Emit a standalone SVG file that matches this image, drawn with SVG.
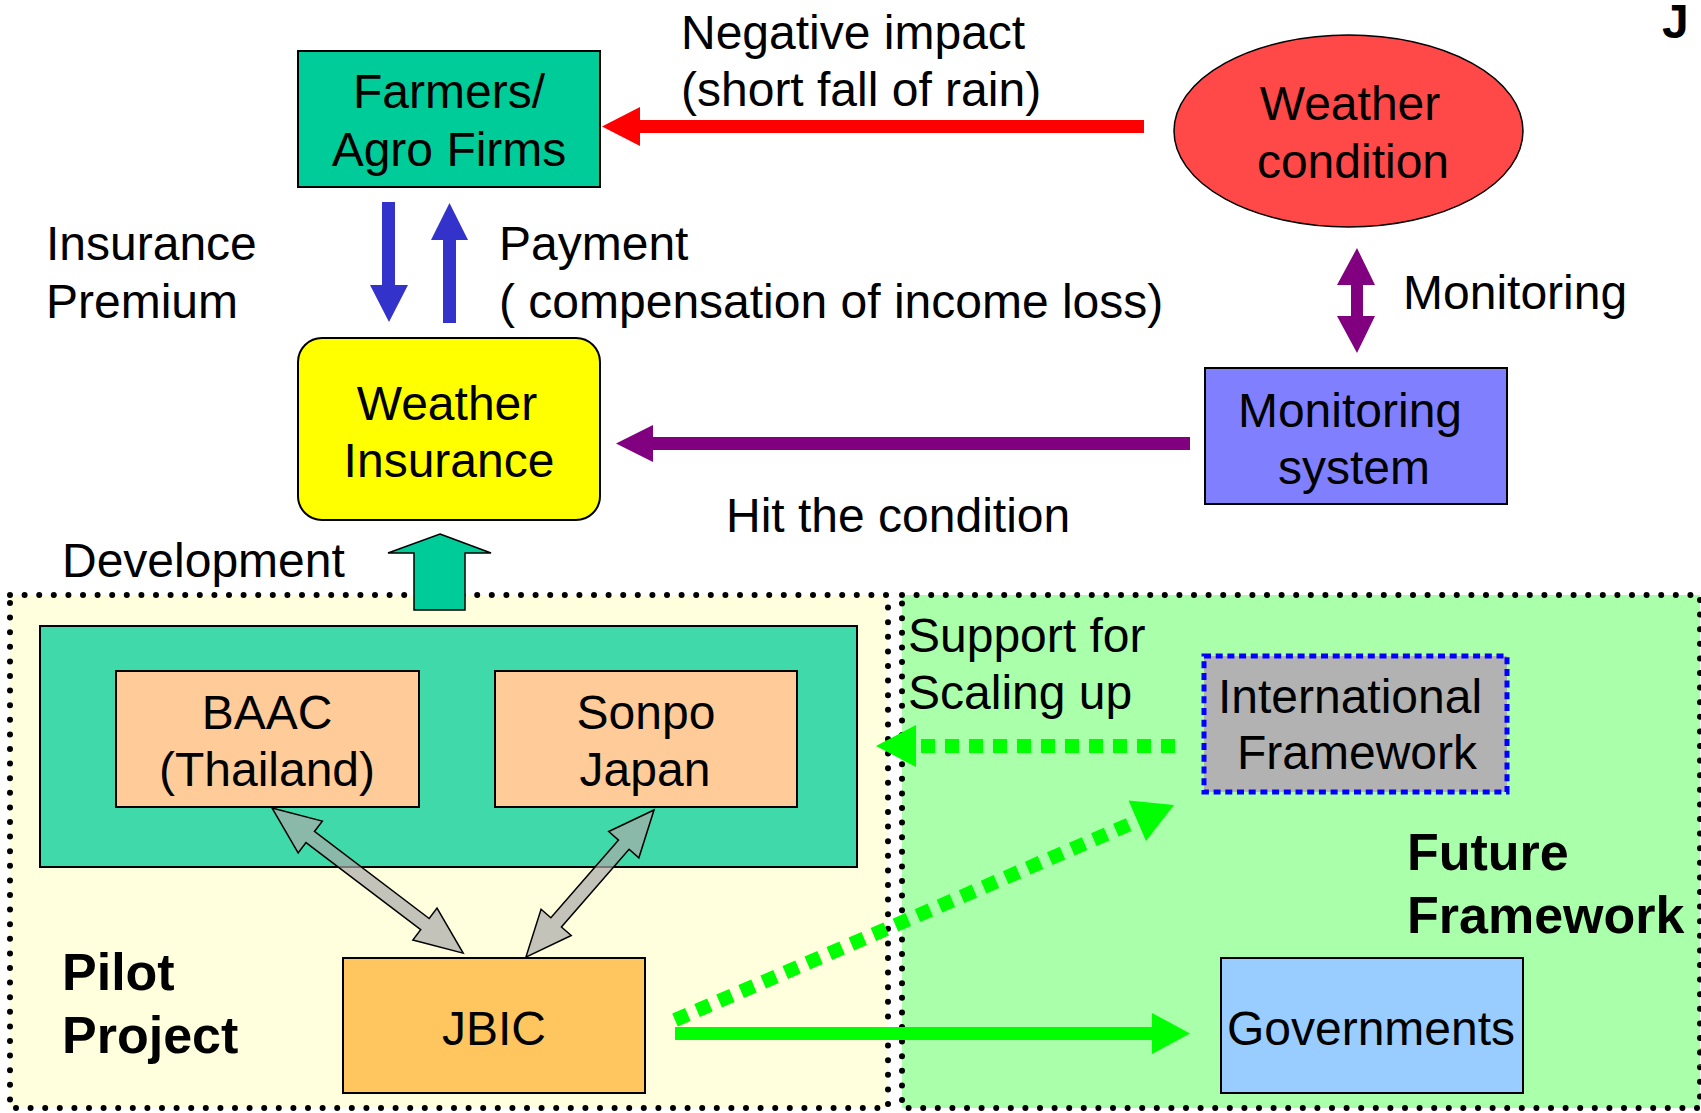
<svg xmlns="http://www.w3.org/2000/svg" width="1701" height="1113" viewBox="0 0 1701 1113">
<style>
text{font-family:"Liberation Sans",Arial,sans-serif;font-size:48px;fill:#000}
.c{text-anchor:middle}
.b{font-weight:bold;font-size:52px}
.box{stroke:#000;stroke-width:2}
.dot{fill:none;stroke:#000;stroke-width:6;stroke-linecap:round;stroke-dasharray:0 14.6}
.gdash{fill:none;stroke:#00FF00;stroke-width:14;stroke-dasharray:14 10}
.garrow{fill:#AAAAAA;fill-opacity:0.7;stroke:#000;stroke-width:1.5;stroke-linejoin:miter}
</style>
<rect width="1701" height="1113" fill="#fff"/>

<g id="pilot-region">
<rect x="10" y="595" width="878" height="513" fill="#FFFFDD"/>
<rect x="10" y="595" width="878" height="513" class="dot"/>
<text x="62" y="990" class="b">Pilot</text>
<text x="62" y="1053" class="b">Project</text>
</g>
<g id="future-region">
<rect x="902" y="595" width="798" height="513" fill="#AAFFAA"/>
<rect x="902" y="595" width="798" height="513" class="dot"/>
<text x="1407" y="870" class="b">Future</text>
<text x="1407" y="933" class="b">Framework</text>
</g>

<g id="partnership">
<rect x="40" y="626" width="817" height="241" fill="#40D9A9" class="box"/>
</g>

<g id="farmers">
<rect x="298" y="51" width="302" height="136" fill="#00CC99" class="box"/>
<text x="449" y="108" class="c">Farmers/</text>
<text x="449" y="166" class="c">Agro Firms</text>
</g>

<g id="weather-condition">
<ellipse cx="1348.5" cy="131" rx="174.5" ry="96" fill="#FF4848" stroke="#000" stroke-width="1.5"/>
<text x="1350" y="120" class="c">Weather</text>
<text x="1353" y="178" class="c">condition</text>
</g>

<g id="weather-insurance">
<rect x="298" y="338" width="302" height="182" rx="24" ry="24" fill="#FFFF00" class="box"/>
<text x="447" y="420" class="c">Weather</text>
<text x="449" y="477" class="c">Insurance</text>
</g>

<g id="monitoring-system">
<rect x="1205" y="368" width="302" height="136" fill="#8080FF" class="box"/>
<text x="1350" y="427" class="c">Monitoring</text>
<text x="1354" y="484" class="c">system</text>
</g>

<g id="baac">
<rect x="116" y="671" width="303" height="136" fill="#FFCC99" class="box"/>
<text x="267" y="729" class="c">BAAC</text>
<text x="267" y="786" class="c">(Thailand)</text>
</g>

<g id="sonpo">
<rect x="495" y="671" width="302" height="136" fill="#FFCC99" class="box"/>
<text x="646" y="729" class="c">Sonpo</text>
<text x="645" y="786" class="c">Japan</text>
</g>

<g id="jbic">
<rect x="343" y="958" width="302" height="135" fill="#FFC660" class="box"/>
<text x="494" y="1045" class="c">JBIC</text>
</g>

<g id="international-framework">
<rect x="1204" y="656" width="303" height="136" fill="#B2B2B2" stroke="#0000FF" stroke-width="5" stroke-dasharray="7 4.7"/>
<text x="1350" y="713" class="c">International</text>
<text x="1357" y="769" class="c">Framework</text>
</g>

<g id="governments">
<rect x="1221" y="958" width="302" height="135" fill="#99CCFF" class="box"/>
<text x="1371" y="1045" class="c">Governments</text>
</g>

<g id="connectors">
<rect x="639" y="120" width="505" height="13" fill="#FF0000"/>
<polygon points="602,126.5 640,107 640,146" fill="#FF0000"/>
<polygon points="382,202 395,202 395,285 408,285 389,322 370,285 382,285" fill="#3333CC"/>
<polygon points="449.5,203 468,240 456,240 456,323 443,323 443,240 431,240" fill="#3333CC"/>
<polygon points="1357,248 1375,285 1363,285 1363,316 1375,316 1357,353 1337,316 1351,316 1351,285 1337,285" fill="#800080"/>
<rect x="652" y="437" width="538" height="13" fill="#800080"/>
<polygon points="616,443.5 653,425 653,462" fill="#800080"/>
<polygon points="440,534 491,553 465,553 465,610 414,610 414,553 388,553" fill="#00CC99" stroke="#000" stroke-width="1.5"/>
<polygon class="garrow" transform="translate(272,808) rotate(37.2)" points="0,0 48,-20 48,-7 192,-7 192,-20 240,0 192,20 192,7 48,7 48,20"/>
<polygon class="garrow" transform="translate(654,810) rotate(131.05)" points="0,0 46,-20 46,-7 149,-7 149,-20 195,0 149,20 149,7 46,7 46,20"/>
<line x1="1175" y1="746" x2="917" y2="746" class="gdash"/>
<polygon points="876,746 916,725 916,767" fill="#00FF00"/>
<line x1="675" y1="1020" x2="1137" y2="821" class="gdash"/>
<polygon points="1174,805 1146,841 1128.6,800.6" fill="#00FF00"/>
<rect x="675" y="1027" width="478" height="13" fill="#00FF00"/>
<polygon points="1190,1033.5 1152,1013 1152,1054" fill="#00FF00"/>
</g>

<g id="labels">
<text x="681" y="49">Negative impact</text>
<text x="681" y="106">(short fall of rain)</text>
<text x="46" y="260">Insurance</text>
<text x="46" y="318">Premium</text>
<text x="499" y="260">Payment</text>
<text x="499" y="318">( compensation of income loss)</text>
<text x="1403" y="309">Monitoring</text>
<text x="726" y="532">Hit the condition</text>
<text x="62" y="577">Development</text>
<text x="908" y="652">Support for</text>
<text x="908" y="709">Scaling up</text>
<text x="1662" y="38" style="font-weight:bold;font-size:48px">J</text>
<text x="1695" y="1066" style="font-family:'Liberation Serif',serif;font-size:30px;fill:#1B5E20">1</text>
</g>
</svg>
